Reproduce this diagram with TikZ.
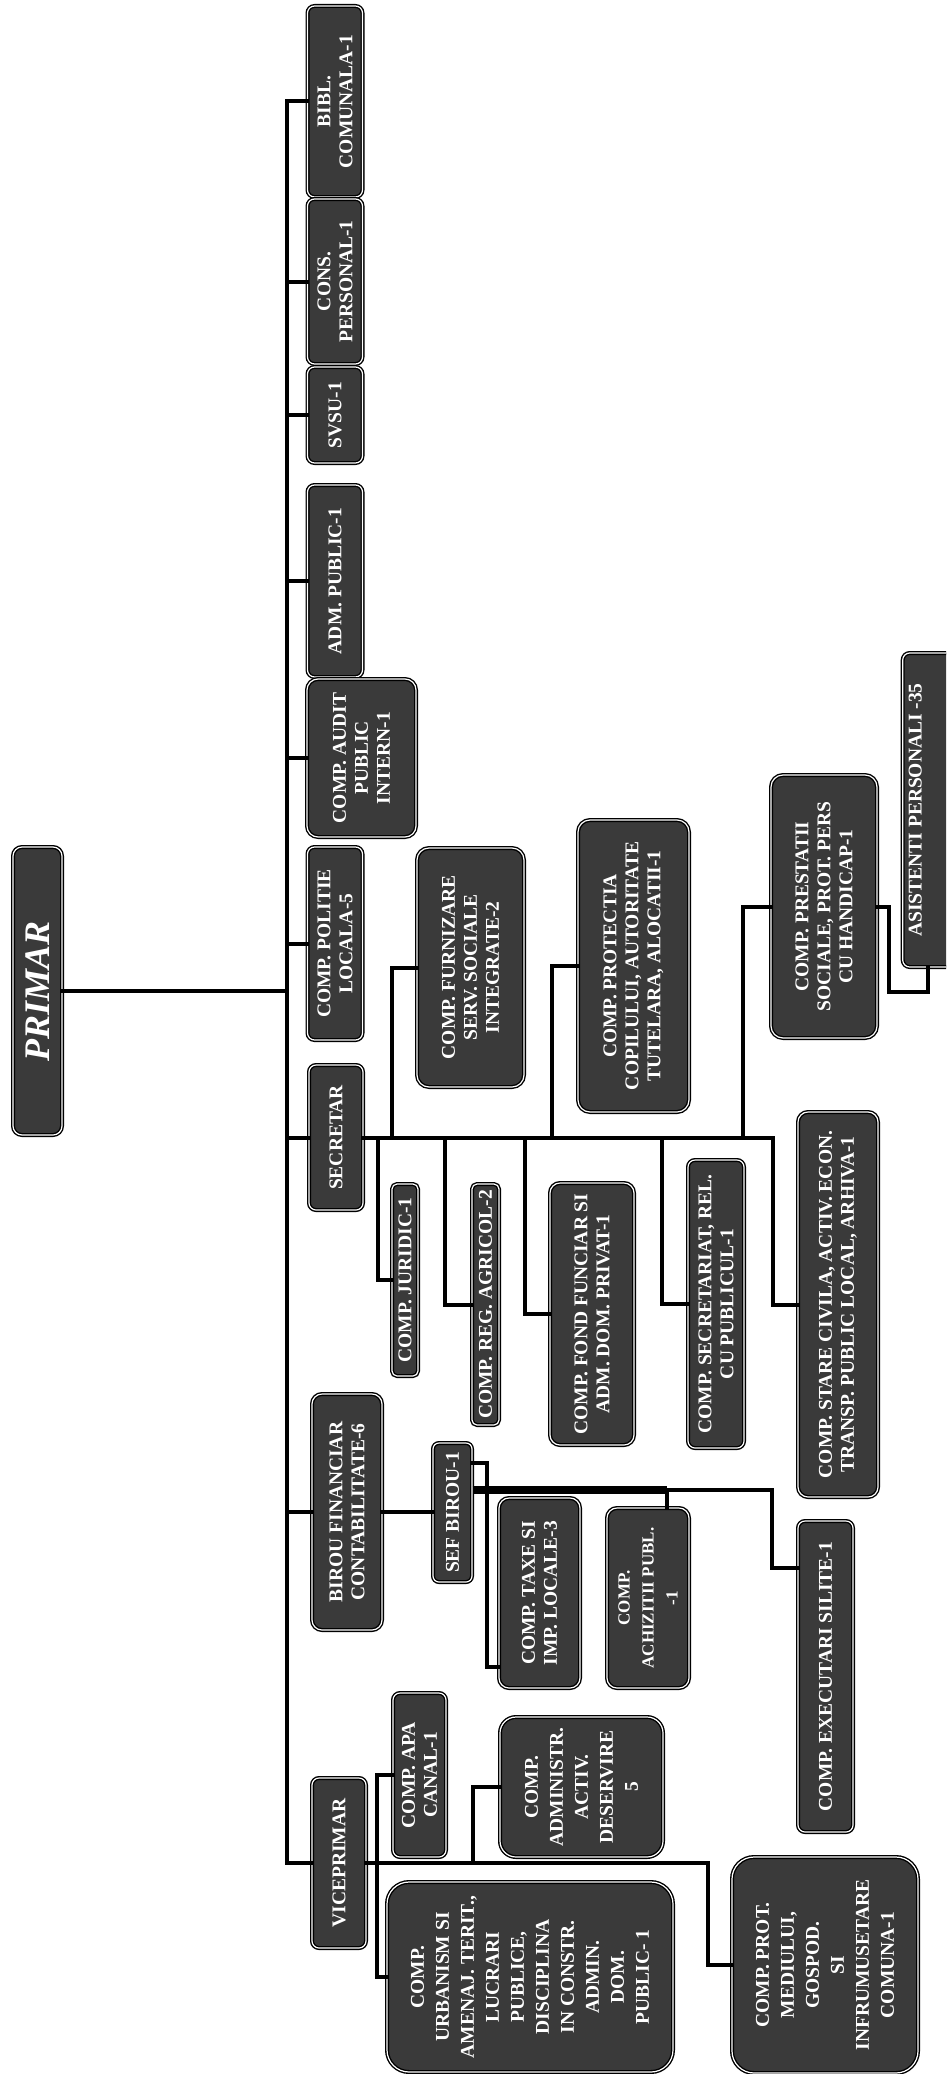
\documentclass[tikz,border=0pt]{standalone}
\usepackage{fontspec}
\setmainfont{Liberation Serif}
\usetikzlibrary{calc}
\definecolor{unitgray}{RGB}{58,58,58}
\newcommand{\unitfont}{\fontsize{19.5}{22}\selectfont\bfseries}
\newcommand{\bigunitfont}{\fontsize{19.5}{25}\selectfont\bfseries}
\newcommand{\primfont}{\fontsize{36}{40}\selectfont\bfseries\itshape}

\begin{document}
\begin{tikzpicture}[
    x=1pt, y=-1pt,
    unit/.style={rectangle, rounded corners=7pt, rotate=90, draw=black, line width=1.4pt,
      double=white, double distance=1.2pt, fill=unitgray, text=white,
      inner sep=2pt, align=center, font=\unitfont},
    conn/.style={line width=4pt, line cap=rect}
  ]
  \useasboundingbox (0,0) rectangle (946,2074);
  \clip (0,0) rectangle (946,2074);

  % primar and direct subordinates
  \node[unit, rounded corners=9pt, font=\primfont, minimum width=288pt, minimum height=49pt] (primar) at (37.5,991) {PRIMAR};
  \node[unit, minimum width=191pt, minimum height=55pt] (bibl) at (335,101.5) {BIBL.\\COMUNALA-1};
  \node[unit, minimum width=165pt, minimum height=55pt] (cons) at (335,281.5) {CONS.\\PERSONAL-1};
  \node[unit, minimum width=96pt, minimum height=55pt] (svsu) at (335,415) {SVSU-1};
  \node[unit, minimum width=192pt, minimum height=55pt] (adm) at (335,581) {ADM. PUBLIC-1};
  \node[unit, rounded corners=11pt, minimum width=158pt, minimum height=109pt] (audit) at (361.5,758) {COMP. AUDIT\\PUBLIC\\INTERN-1};
  \node[unit, minimum width=193pt, minimum height=55pt] (politie) at (335,943.5) {COMP. POLITIE\\LOCALA-5};
  \node[unit, minimum width=145pt, minimum height=54pt] (secretar) at (336,1137.5) {SECRETAR};
  \node[unit, rounded corners=10pt, minimum width=236pt, minimum height=70pt] (birou) at (347,1512) {BIROU FINANCIAR\\CONTABILITATE-6};
  \node[unit, minimum width=170pt, minimum height=54pt] (vice) at (339,1863) {VICEPRIMAR};

  % secretar
  \node[unit, rounded corners=12pt, minimum width=239pt, minimum height=107pt] (furn) at (470.5,967.5) {COMP. FURNIZARE\\SERV. SOCIALE\\INTEGRATE-2};
  \node[unit, rounded corners=12pt, minimum width=292pt, minimum height=111pt] (copil) at (633.5,966) {COMP. PROTECTIA\\COPILULUI, AUTORITATE\\TUTELARA, ALOCATII-1};
  \node[unit, rounded corners=12pt, minimum width=263pt, minimum height=106pt] (prest) at (824,906.5) {COMP. PRESTATII\\SOCIALE, PROT. PERS\\CU HANDICAP-1};
  \node[unit, anchor=north, inner sep=6pt, text depth=50pt, minimum width=314pt] (asist) at (902,810) {ASISTENTI PERSONALI -35};
  \node[unit, rounded corners=5pt, minimum width=192pt, minimum height=26pt] (jur) at (405,1280) {COMP. JURIDIC-1};
  \node[unit, rounded corners=5pt, minimum width=241pt, minimum height=27pt] (agr) at (485.5,1304.5) {COMP. REG. AGRICOL-2};
  \node[unit, rounded corners=10pt, minimum width=262pt, minimum height=84pt] (fond) at (592,1314) {COMP. FOND FUNCIAR SI\\ADM. DOM. PRIVAT-1};
  \node[unit, minimum width=288pt, minimum height=56pt] (secr) at (716,1304) {COMP. SECRETARIAT, REL.\\CU PUBLICUL-1};
  \node[unit, rounded corners=10pt, minimum width=385pt, minimum height=80pt] (stare) at (838,1304.5) {COMP. STARE CIVILA, ACTIV. ECON.\\TRANSP. PUBLIC LOCAL, ARHIVA-1};

  % birou financiar
  \node[unit, rounded corners=6pt, minimum width=139pt, minimum height=39pt] (sef) at (452.5,1512.5) {SEF BIROU-1};
  \node[unit, rounded corners=10pt, minimum width=190pt, minimum height=81pt] (taxe) at (539.5,1593) {COMP. TAXE SI\\IMP. LOCALE-3};
  \node[unit, rounded corners=10pt, font={\fontsize{17}{24}\selectfont\bfseries}, minimum width=180pt, minimum height=82pt] (ach) at (648,1598) {COMP.\\ACHIZITII PUBL.\\-1};
  \node[unit, minimum width=311pt, minimum height=55pt] (exe) at (825.5,1676.5) {COMP. EXECUTARI SILITE-1};

  % viceprimar
  \node[unit, minimum width=164pt, minimum height=53pt] (apa) at (419.5,1775) {COMP. APA\\CANAL-1};
  \node[unit, rounded corners=16pt, font=\bigunitfont, minimum width=140pt, minimum height=163pt] (admin) at (581.5,1787) {COMP.\\ADMINISTR.\\ACTIV.\\DESERVIRE\\5};
  \node[unit, rounded corners=22pt, font=\bigunitfont, minimum width=190pt, minimum height=286pt] (urb) at (530,1977) {COMP.\\URBANISM SI\\AMENAJ. TERIT.,\\LUCRARI\\PUBLICE,\\DISCIPLINA\\IN CONSTR.\\ADMIN.\\DOM.\\PUBLIC- 1};
  \node[unit, rounded corners=22pt, font=\bigunitfont, minimum width=216pt, minimum height=186pt] (mediu) at (825,1965) {COMP. PROT.\\MEDIULUI,\\GOSPOD.\\SI\\INFRUMUSETARE\\COMUNA-1};

  % main bus
  \coordinate (busT) at (287,101.5);
  \coordinate (busB) at (287,1863);
  \draw[conn] (busT) -- (busB);
  \draw[conn] (primar.south) -- (primar.south -| busT);
  \foreach \n in {bibl,cons,svsu,adm,audit,politie,secretar,birou,vice}
    \draw[conn] (\n.north -| busT) -- (\n.north);

  % secretar bus
  \coordinate (sJur) at (378,1137.5);
  \coordinate (sFurn) at (392,1137.5);
  \coordinate (sAgr) at (445,1137.5);
  \coordinate (sFond) at (525,1137.5);
  \coordinate (sCopil) at (552,1137.5);
  \coordinate (sSecr) at (662,1137.5);
  \coordinate (sPrest) at (743,1137.5);
  \coordinate (sStare) at (773,1137.5);
  \draw[conn] (secretar.south) -- (sStare);
  \foreach \t/\n in {sJur/jur,sFurn/furn,sAgr/agr,sFond/fond,sCopil/copil,sSecr/secr,sPrest/prest,sStare/stare}
    \draw[conn] (\t) |- (\n.north);
  \coordinate (pA) at (889,992);
  \draw[conn] (prest.south) -| (pA) -| ($(asist.north west)+(26,0)$);

  % birou financiar
  \coordinate (fTaxe) at (487,1667);
  \coordinate (fAch) at (667,1490);
  \coordinate (fExe) at (772,1568);
  \draw[conn] (birou.south) -- (birou.south -| sef.north);
  \draw[conn] ($(sef.south)+(0,-49.5)$) -| (fTaxe) -- (fTaxe -| taxe.north);
  \draw[conn, line width=8pt, line cap=butt] ($(sef.south)+(0,-22.5)$) -- (fAch);
  \draw[conn] (fAch) -- (fAch |- ach.east);
  \draw[conn] (fAch) -| (fExe) -- (fExe -| exe.north);

  % viceprimar
  \coordinate (vApa) at (377,1863);
  \coordinate (vAdm) at (473,1863);
  \coordinate (vMed) at (708,1863);
  \draw[conn] (vice.south) -- (vMed) |- (mediu.north);
  \draw[conn] (vApa) |- (apa.north);
  \draw[conn] (vApa) |- (urb.north);
  \draw[conn] (vAdm) |- (admin.north);
\end{tikzpicture}
\end{document}
